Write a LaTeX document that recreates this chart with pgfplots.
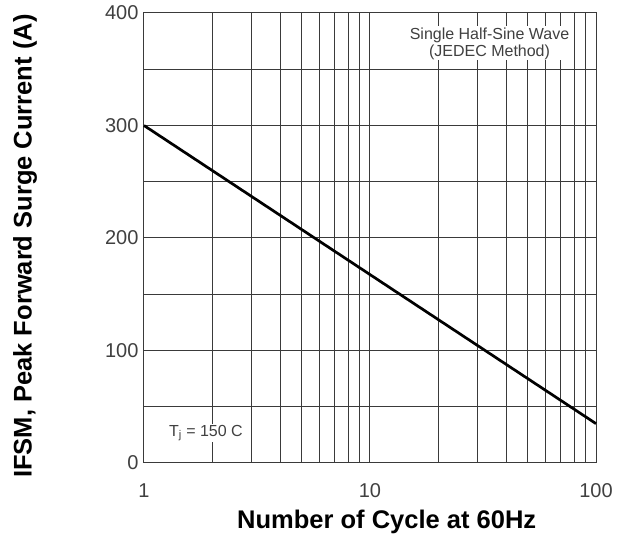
\documentclass[border=0pt]{standalone}
\usepackage{fontspec}
\setmainfont{Liberation Sans}
\usepackage{pgfplots}
\pgfplotsset{compat=1.18}
\definecolor{gridc}{HTML}{3A3A3A}
\definecolor{tickc}{HTML}{404040}
\begin{document}
\begin{tikzpicture}
\path[use as bounding box] (-144pt,-73pt) rectangle (481pt,463pt);
\begin{axis}[
  at={(0,0)}, anchor=south west,
  scale only axis,
  width=452pt, height=450pt,
  xmode=log, log basis x=10,
  xmin=1, xmax=100, ymin=0, ymax=400,
  xtick={1,10,100}, xticklabels={1,10,100},
  minor xtick={2,3,4,5,6,7,8,9,20,30,40,50,60,70,80,90},
  ytick={0,100,200,300,400},
  minor ytick={50,150,250,350},
  grid=both,
  major grid style={gridc, line width=1pt},
  minor grid style={gridc, line width=1pt},
  axis line style={gridc, line width=1pt},
  major tick length=0pt, minor tick length=0pt,
  tick label style={font=\fontsize{20}{22}\selectfont, text=tickc},
  /pgf/number format/assume math mode=true,
  yticklabel style={xshift=-2pt},
  xticklabel style={yshift=-17pt},
  xlabel={\textbf{Number of Cycle at 60Hz}},
  ylabel={\textbf{IFSM, Peak Forward Surge Current (A)}},
  xlabel style={font=\fontsize{25.5}{28}\selectfont, at={(axis description cs:0.537,0)}, anchor=center, yshift=-59pt},
  ylabel style={font=\fontsize{25.5}{28}\selectfont, at={(axis description cs:-0.263,0.482)}, anchor=center},
  clip=false,
]
\addplot[black, line width=2.7pt] coordinates {(1,300) (100,35)};
\node[fill=white, inner sep=1pt, align=center, text=tickc, font=\fontsize{16}{17}\selectfont]
  at (axis cs:33.8,373) {Single Half-Sine Wave\\(JEDEC Method)};
\node[fill=white, inner sep=1pt, text=tickc, font=\fontsize{16}{17}\selectfont]
  at (axis cs:1.88,26.7) {T$_{\mathrm{j}}$ = 150 C};
\end{axis}
\end{tikzpicture}
\end{document}
